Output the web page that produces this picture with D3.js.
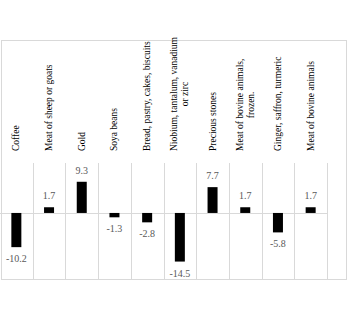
<!DOCTYPE html>
<html>
<head>
<meta charset="utf-8">
<script src="https://cdn.jsdelivr.net/npm/d3@7"></script>
<style>
  html, body { margin: 0; padding: 0; background: #fff; }
  svg { display: block; }
</style>
</head>
<body>
<svg id="chart" width="350" height="322"></svg>
<script>
// Product categories (each entry is a list of label lines) and their change values
const categories = [
  ["Coffee"],
  ["Meat of sheep or goats"],
  ["Gold"],
  ["Soya beans"],
  ["Bread, pastry, cakes, biscuits"],
  ["Niobium, tantalum, vanadium", "or zirc"],
  ["Precious stones"],
  ["Meat of bovine animals,", "frozen."],
  ["Ginger, saffron, turmeric"],
  ["Meat of bovine animals"]
];
const values = [-10.2, 1.7, 9.3, -1.3, -2.8, -14.5, 7.7, 1.7, -5.8, 1.7];

const svg = d3.select("#chart");
const gridColor = "#d9d9d9";
const serif = "'Liberation Serif', 'Times New Roman', serif";

const frame = { left: 1, top: 40, right: 346, bottom: 279 };
const plotTop = 163;
const tableRight = 327;

const keys = categories.map((c, i) => i);
const x = d3.scaleBand().domain(keys).range([0, tableRight]).padding(0);
const y = d3.scaleLinear().domain([-19.7, 14.9]).range([frame.bottom, plotTop]);
const barW = 10;

// outer frame
svg.append("rect")
  .attr("x", frame.left + 0.5).attr("y", frame.top + 0.5)
  .attr("width", frame.right - frame.left).attr("height", frame.bottom - frame.top)
  .attr("fill", "none").attr("stroke", gridColor).attr("stroke-width", 1);

// column separators in the plot band
svg.append("g").selectAll("line")
  .data(keys.slice(1).concat(["end"]))
  .join("line")
  .attr("x1", d => Math.round(d === "end" ? tableRight : x(d)) + 0.5)
  .attr("x2", d => Math.round(d === "end" ? tableRight : x(d)) + 0.5)
  .attr("y1", plotTop).attr("y2", frame.bottom)
  .attr("stroke", gridColor);

// zero line
svg.append("line")
  .attr("x1", 0).attr("x2", tableRight)
  .attr("y1", Math.round(y(0)) + 0.5).attr("y2", Math.round(y(0)) + 0.5)
  .attr("stroke", gridColor);

// bars
svg.append("g").selectAll("rect")
  .data(values)
  .join("rect")
  .attr("x", (d, i) => x(i) + x.bandwidth() / 2 - barW / 2)
  .attr("width", barW)
  .attr("y", d => y(Math.max(0, d)))
  .attr("height", d => Math.abs(y(d) - y(0)))
  .attr("fill", "#000");

// value labels
svg.append("g").selectAll("text")
  .data(values)
  .join("text")
  .attr("x", (d, i) => x(i) + x.bandwidth() / 2)
  .attr("y", d => d >= 0 ? y(d) - 8 : y(d) + 15)
  .attr("text-anchor", "middle")
  .attr("font-family", serif)
  .attr("font-size", 10)
  .attr("fill", "#595959")
  .text(d => d.toFixed(1));

// rotated category labels
const labelBase = 151;
const lineGap = 11;
const lab = svg.append("g").attr("font-family", serif).attr("font-size", 9.5).attr("fill", "#000");
categories.forEach((lines, i) => {
  const cx = x(i) + x.bandwidth() / 2;
  const n = lines.length;
  const first = lab.append("text")
    .attr("transform", `translate(${cx + 3 - (n - 1) * lineGap / 2},${labelBase}) rotate(-90)`)
    .attr("text-anchor", "start")
    .text(lines[0]);
  const len = first.node().getComputedTextLength();
  for (let k = 1; k < n; k++) {
    lab.append("text")
      .attr("transform", `translate(${cx + 3 - (n - 1) * lineGap / 2 + k * lineGap},${labelBase - len / 2}) rotate(-90)`)
      .attr("text-anchor", "middle")
      .text(lines[k]);
  }
});
</script>
</body>
</html>
